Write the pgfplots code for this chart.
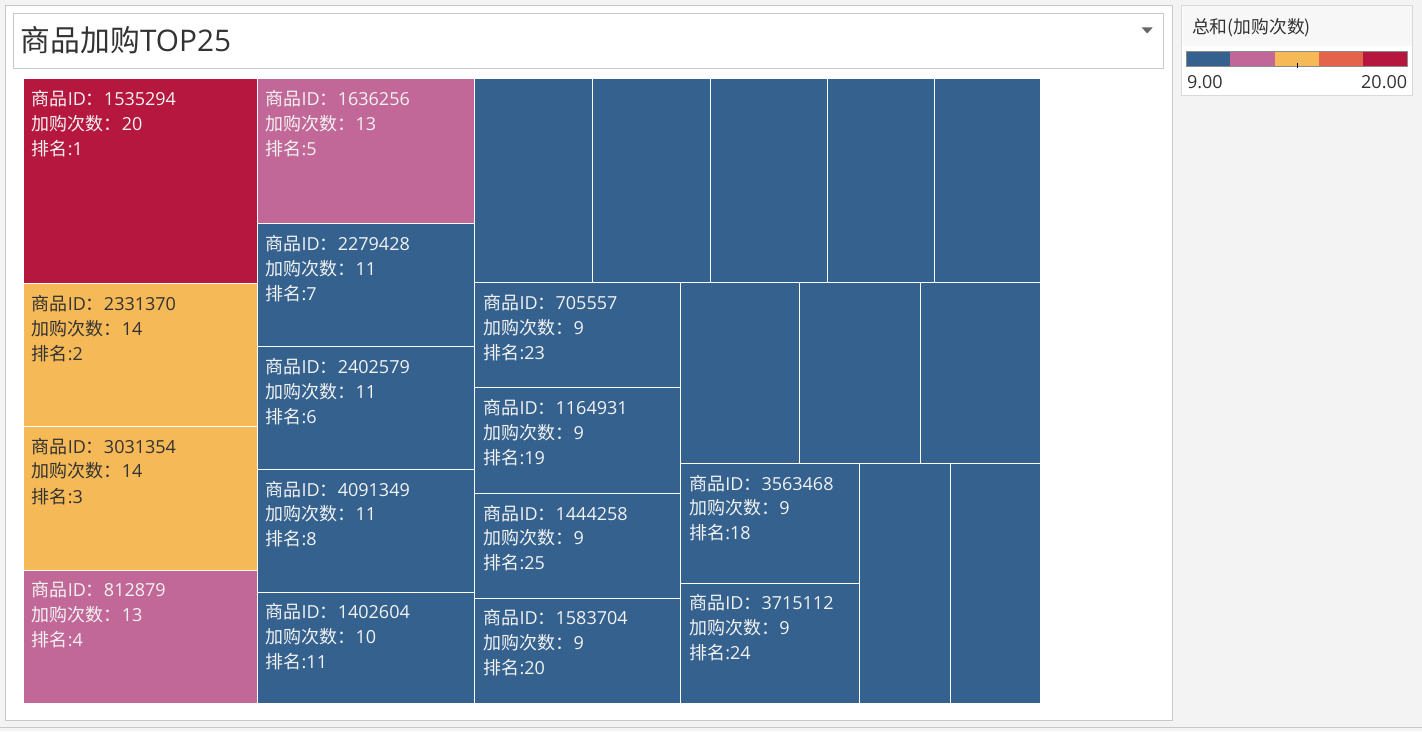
\documentclass[border=0pt]{standalone}
\usepackage{pgfplots}
\pgfplotsset{compat=1.18}
\usepackage{fontspec}
\setmainfont{Open Sans}
\newfontfamily\cjk{Noto Sans CJK SC}
\definecolor{cRed}{HTML}{B6173F}
\definecolor{cPink}{HTML}{C26898}
\definecolor{cOrange}{HTML}{F5B957}
\definecolor{cBlue}{HTML}{34618D}
\definecolor{cCoral}{HTML}{E4634B}
\definecolor{bgGray}{HTML}{F3F3F3}
\definecolor{bdGray}{HTML}{C8C8C8}
\definecolor{txtDark}{HTML}{333333}
\definecolor{offWhite}{HTML}{F2F2F2}
\newcommand{\rect}[5]{\addplot[fill=#5, draw=white, line width=0.5pt] coordinates {(#1,#2) (#3,#2) (#3,#4) (#1,#4)} -- cycle;}
\newcommand{\panel}[6]{\addplot[fill=#5, draw=#6, line width=0.5pt] coordinates {(#1,#2) (#3,#2) (#3,#4) (#1,#4)} -- cycle;}
\newcommand{\lblfont}{\fontsize{9}{10}\selectfont}
% x, y1, y2, y3, id, count, rank, color
\newcommand{\lab}[8]{%
\node[anchor=west, inner sep=0pt, text=#8, font=\lblfont] at (axis cs:#1,#2) {{\cjk 商品}ID{\cjk ：}#5};
\node[anchor=west, inner sep=0pt, text=#8, font=\lblfont] at (axis cs:#1,#3) {{\cjk 加购次数：}#6};
\node[anchor=west, inner sep=0pt, text=#8, font=\lblfont] at (axis cs:#1,#4) {{\cjk 排名}:#7};}
\begin{document}
\begin{tikzpicture}
\begin{axis}[hide axis, scale only axis, width=711pt, height=365.5pt,
  xmin=0, xmax=1422, ymin=0, ymax=731, y dir=reverse, clip=false]
% backgrounds
\panel{0}{0}{1422}{731}{bgGray}{bgGray}
\panel{5}{5}{1173}{721}{white}{bdGray}
\panel{13}{13}{1164}{68}{white}{bdGray}
\panel{1182}{5}{1413}{95}{white}{black!15}
\addplot[fill=black!3, draw=none] coordinates {(1183,6) (1412,6) (1412,46) (1183,46)} -- cycle;
\addplot[draw=bdGray, line width=0.5pt] coordinates {(0,728) (1422,728)};
% dropdown triangle
\addplot[fill=black!60, draw=none] coordinates {(1142,27) (1153,27) (1147.5,33)} -- cycle;
% title
\node[anchor=west, inner sep=0pt, text=txtDark, font=\fontsize{14.9}{16}\selectfont] at (axis cs:20,40) {{\cjk 商品加购}TOP25};
% legend
\node[anchor=west, inner sep=0pt, text=txtDark, font=\fontsize{8.9}{10}\selectfont] at (axis cs:1192,27) {{\cjk 总和(加购次数)}};
\panel{1187}{51}{1231.2}{66}{cBlue}{cBlue}
\panel{1231.2}{51}{1275.4}{66}{cPink}{cPink}
\panel{1275.4}{51}{1319.6}{66}{cOrange}{cOrange}
\panel{1319.6}{51}{1363.8}{66}{cCoral}{cCoral}
\panel{1363.8}{51}{1408}{66}{cRed}{cRed}
\addplot[draw=black!45, line width=0.5pt] coordinates {(1187,51) (1408,51) (1408,66) (1187,66)} -- cycle;
\addplot[draw=black, line width=0.5pt] coordinates {(1298,63) (1298,68)};
\node[anchor=west, inner sep=0pt, text=txtDark, font=\fontsize{9}{10}\selectfont] at (axis cs:1187,82) {9.00};
\node[anchor=east, inner sep=0pt, text=txtDark, font=\fontsize{9}{10}\selectfont] at (axis cs:1408,82) {20.00};
% treemap column 1
\rect{23}{78}{257}{283}{cRed}
\rect{23}{283}{257}{426}{cOrange}
\rect{23}{426}{257}{570}{cOrange}
\rect{23}{570}{257}{703}{cPink}
% column 2
\rect{257}{78}{474}{223}{cPink}
\rect{257}{223}{474}{346}{cBlue}
\rect{257}{346}{474}{469}{cBlue}
\rect{257}{469}{474}{592}{cBlue}
\rect{257}{592}{474}{703}{cBlue}
% top row
\rect{474}{78}{592}{282}{cBlue}
\rect{592}{78}{710}{282}{cBlue}
\rect{710}{78}{828}{282}{cBlue}
\rect{828}{78}{935}{282}{cBlue}
\rect{935}{78}{1041}{282}{cBlue}
% column 3
\rect{474}{282}{680}{387}{cBlue}
\rect{474}{387}{680}{493}{cBlue}
\rect{474}{493}{680}{598}{cBlue}
\rect{474}{598}{680}{703}{cBlue}
% right middle row
\rect{680}{282}{800}{463}{cBlue}
\rect{800}{282}{921}{463}{cBlue}
\rect{921}{282}{1041}{463}{cBlue}
% bottom right
\rect{680}{463}{860}{583}{cBlue}
\rect{680}{583}{860}{703}{cBlue}
\rect{860}{463}{951}{703}{cBlue}
\rect{951}{463}{1041}{703}{cBlue}
% labels
\lab{31}{98}{123}{148}{1535294}{20}{1}{offWhite}
\lab{31}{303}{328}{353}{2331370}{14}{2}{txtDark}
\lab{31}{446}{471}{496}{3031354}{14}{3}{txtDark}
\lab{31}{590}{615}{640}{812879}{13}{4}{offWhite}
\lab{265}{98}{123}{148}{1636256}{13}{5}{offWhite}
\lab{265}{243}{268}{293}{2279428}{11}{7}{offWhite}
\lab{265}{366}{391}{416}{2402579}{11}{6}{offWhite}
\lab{265}{489}{514}{539}{4091349}{11}{8}{offWhite}
\lab{265}{612}{637}{662}{1402604}{10}{11}{offWhite}
\lab{483}{302}{327}{352}{705557}{9}{23}{offWhite}
\lab{483}{407}{432}{457}{1164931}{9}{19}{offWhite}
\lab{483}{513}{538}{563}{1444258}{9}{25}{offWhite}
\lab{483}{618}{643}{668}{1583704}{9}{20}{offWhite}
\lab{689}{483}{508}{533}{3563468}{9}{18}{offWhite}
\lab{689}{603}{628}{653}{3715112}{9}{24}{offWhite}
\end{axis}
\end{tikzpicture}
\end{document}
